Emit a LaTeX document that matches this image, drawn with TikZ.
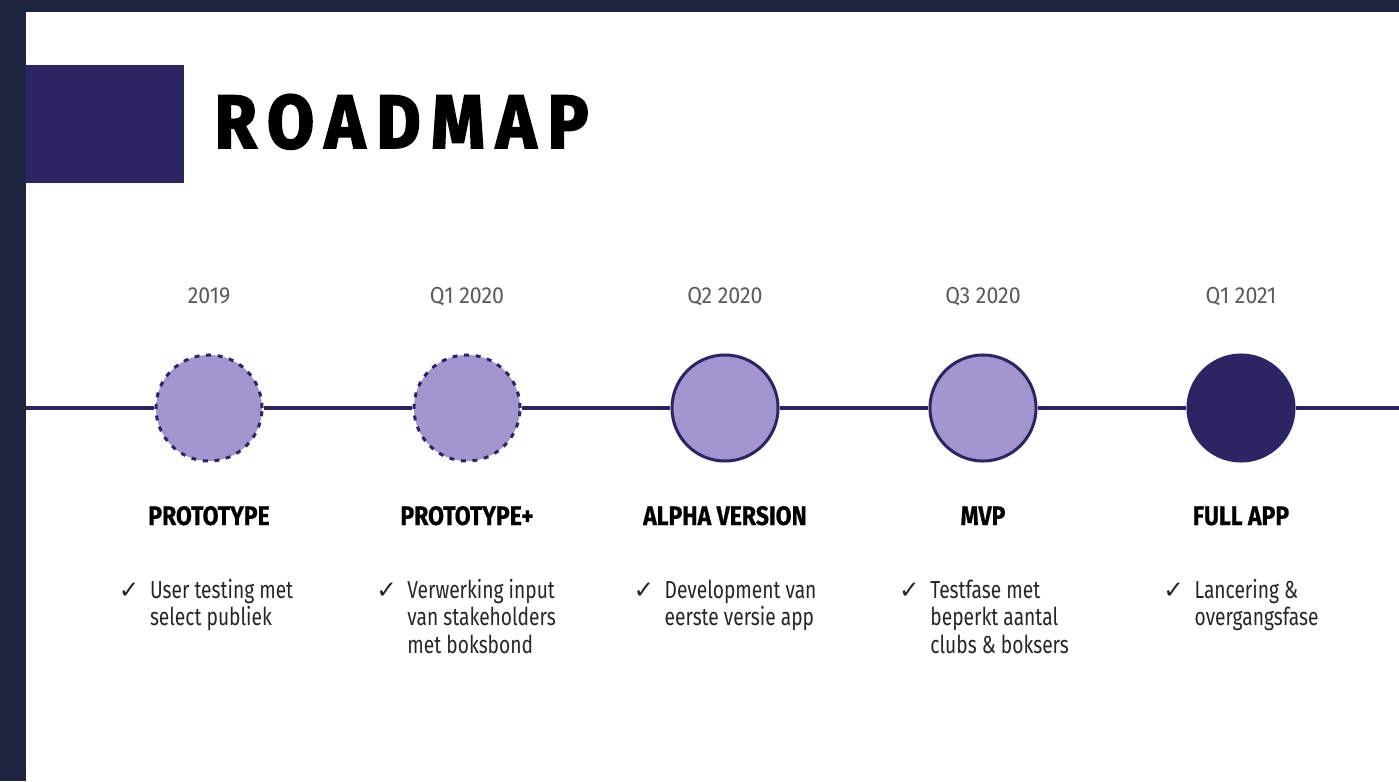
\documentclass[tikz,border=0pt]{standalone}
\usepackage{fontspec}
\setmainfont{Fira Sans}
\newfontfamily\condfont[FakeStretch=0.78]{Fira Sans}
\newfontfamily\yearfont[FakeStretch=0.92]{Fira Sans}
\newfontfamily\phasefont[FakeStretch=0.86,BoldFeatures={FakeBold=0.6}]{Fira Sans}
\newfontfamily\headfont[FakeStretch=0.9,LetterSpace=15,BoldFeatures={FakeBold=2.4}]{Fira Sans}
\newfontfamily\symfont{DejaVu Sans}
\newcommand{\chk}{{\symfont\fontsize{7}{7}\selectfont ✓}\hspace{3pt}}

\definecolor{frame}{HTML}{1F2540}
\definecolor{navy}{HTML}{2C2563}
\definecolor{lilac}{HTML}{A395CF}
\definecolor{yeargray}{HTML}{5A5A5A}

\tikzset{
  yearlabel/.style={anchor=base, inner sep=0, text=yeargray, font=\yearfont\fontsize{6.6}{6.6}\selectfont},
  phaselabel/.style={anchor=base, inner sep=0, font=\phasefont\bfseries\fontsize{7.6}{7.6}\selectfont},
  desclabel/.style={anchor=base, inner sep=0, text=black!85, font=\condfont\fontsize{7}{7.9}\selectfont},
  timeline/.style={navy, line width=0.9pt}
}

\begin{document}
\begin{tikzpicture}[x=0.01cm, y=-0.01cm]
\useasboundingbox (0,0) rectangle (1399,781);
% frame and header
\fill[frame] (0,0) rectangle (1399,781);
\fill[white] (26,12) rectangle (1399,781);
\fill[navy] (26,65) rectangle (184,183);
\node[anchor=base west, inner sep=0, font=\headfont\bfseries\fontsize{21.5}{21.5}\selectfont] (title) at (214,148) {ROADMAP};

\coordinate (lstart) at (26,408);
\coordinate (lend) at (1399,408);

\begin{scope}[every node/.style={circle, minimum size=1.06cm, inner sep=0, line width=0.85pt, draw=navy, fill=lilac}]
    \node[dash pattern=on 1.4pt off 1.9pt] (m1) at (209,408) {};
    \node[dash pattern=on 1.4pt off 1.9pt] (m2) at (467,408) {};
    \node (m3) at (725,408) {};
    \node (m4) at (983,408) {};
    \node[fill=navy] (m5) at (1241,408) {};
\end{scope}

\foreach \from/\to in {lstart/m1, m1/m2, m2/m3, m3/m4, m4/m5, m5/lend}
    \draw[timeline] (\from) -- (\to);

% years
\node[yearlabel] (y1) at (209,303) {2019};
\node[yearlabel] (y2) at (467,303) {Q1 2020};
\node[yearlabel] (y3) at (725,303) {Q2 2020};
\node[yearlabel] (y4) at (983,303) {Q3 2020};
\node[yearlabel] (y5) at (1241,303) {Q1 2021};

% phases
\node[phaselabel] (p1) at (209,525) {PROTOTYPE};
\node[phaselabel] (p2) at (467,525) {PROTOTYPE+};
\node[phaselabel] (p3) at (725,525) {ALPHA VERSION};
\node[phaselabel] (p4) at (983,525) {MVP};
\node[phaselabel] (p5) at (1241,525) {FULL APP};

% descriptions
\node[desclabel] (d1) at (206,598) {\chk\begin{tabular}[t]{@{}l@{}}User testing met\\ select publiek\end{tabular}};
\node[desclabel] (d2) at (466,598) {\chk\begin{tabular}[t]{@{}l@{}}Verwerking input\\ van stakeholders\\ met boksbond\end{tabular}};
\node[desclabel] (d3) at (725,598) {\chk\begin{tabular}[t]{@{}l@{}}Development van\\ eerste versie app\end{tabular}};
\node[desclabel] (d4) at (984,598) {\chk\begin{tabular}[t]{@{}l@{}}Testfase met\\ beperkt aantal\\ clubs \& boksers\end{tabular}};
\node[desclabel] (d5) at (1241,598) {\chk\begin{tabular}[t]{@{}l@{}}Lancering \&\\ overgangsfase\end{tabular}};
\end{tikzpicture}
\end{document}
